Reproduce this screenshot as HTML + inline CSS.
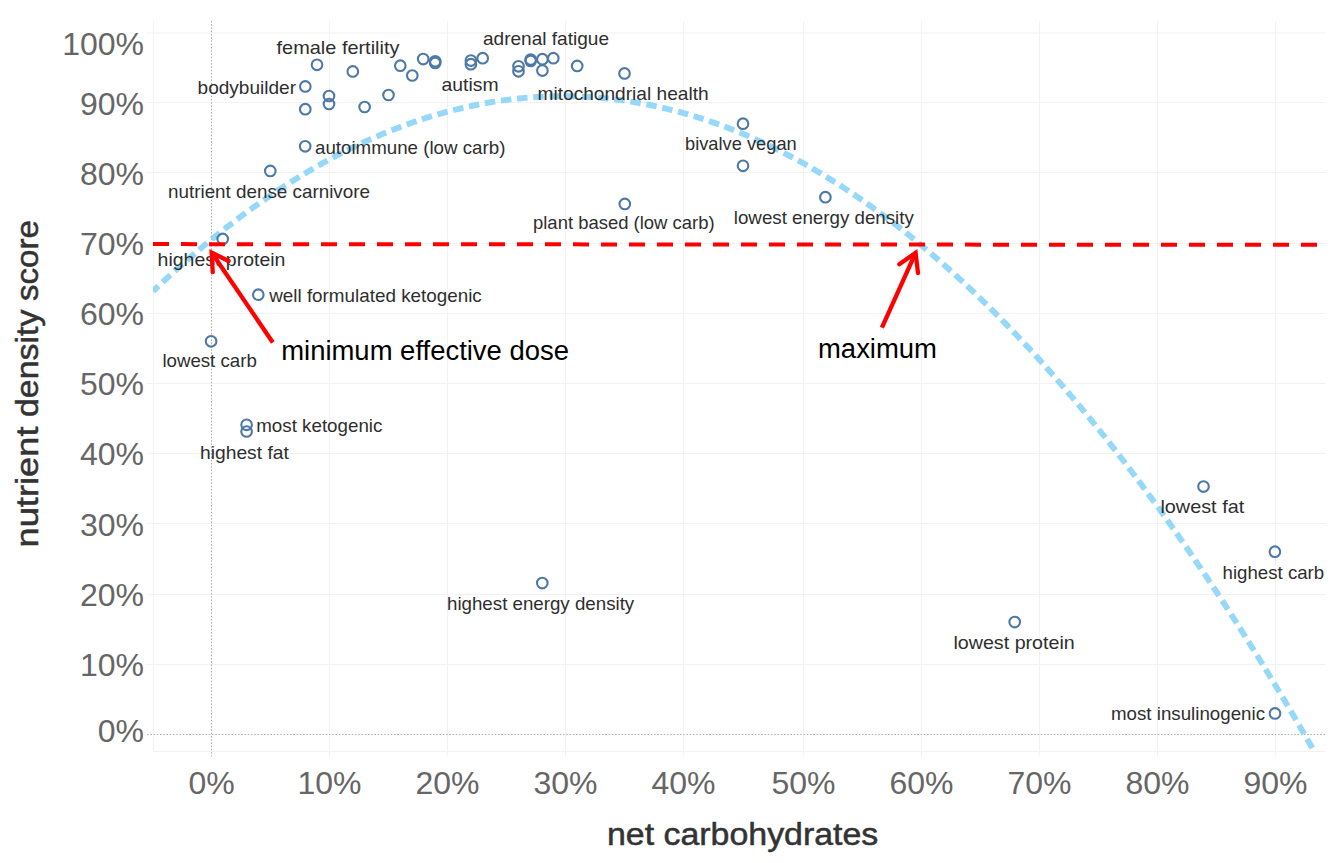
<!DOCTYPE html>
<html><head><meta charset="utf-8"><style>
html,body{margin:0;padding:0;background:#fff;width:1337px;height:863px;overflow:hidden}
svg{position:absolute;left:0;top:0}
text{font-family:"Liberation Sans",sans-serif}
</style></head><body>
<svg width="1337" height="863" viewBox="0 0 1337 863">

<line x1="147" y1="664.5" x2="1325.6" y2="664.5" stroke="#f2f2f2" stroke-width="1"/>
<line x1="147" y1="594.5" x2="1325.6" y2="594.5" stroke="#f2f2f2" stroke-width="1"/>
<line x1="147" y1="523.5" x2="1325.6" y2="523.5" stroke="#f2f2f2" stroke-width="1"/>
<line x1="147" y1="453.5" x2="1325.6" y2="453.5" stroke="#f2f2f2" stroke-width="1"/>
<line x1="147" y1="383.5" x2="1325.6" y2="383.5" stroke="#f2f2f2" stroke-width="1"/>
<line x1="147" y1="313.5" x2="1325.6" y2="313.5" stroke="#f2f2f2" stroke-width="1"/>
<line x1="147" y1="243.5" x2="1325.6" y2="243.5" stroke="#f2f2f2" stroke-width="1"/>
<line x1="147" y1="172.5" x2="1325.6" y2="172.5" stroke="#f2f2f2" stroke-width="1"/>
<line x1="147" y1="102.5" x2="1325.6" y2="102.5" stroke="#f2f2f2" stroke-width="1"/>
<line x1="147" y1="33.0" x2="1325.6" y2="33.0" stroke="#f2f2f2" stroke-width="1"/>
<line x1="329.5" y1="20.9" x2="329.5" y2="756.5" stroke="#f2f2f2" stroke-width="1"/>
<line x1="447.5" y1="20.9" x2="447.5" y2="756.5" stroke="#f2f2f2" stroke-width="1"/>
<line x1="565.5" y1="20.9" x2="565.5" y2="756.5" stroke="#f2f2f2" stroke-width="1"/>
<line x1="683.5" y1="20.9" x2="683.5" y2="756.5" stroke="#f2f2f2" stroke-width="1"/>
<line x1="803.5" y1="20.9" x2="803.5" y2="756.5" stroke="#f2f2f2" stroke-width="1"/>
<line x1="921.5" y1="20.9" x2="921.5" y2="756.5" stroke="#f2f2f2" stroke-width="1"/>
<line x1="1039.5" y1="20.9" x2="1039.5" y2="756.5" stroke="#f2f2f2" stroke-width="1"/>
<line x1="1157.5" y1="20.9" x2="1157.5" y2="756.5" stroke="#f2f2f2" stroke-width="1"/>
<line x1="1275.5" y1="20.9" x2="1275.5" y2="756.5" stroke="#f2f2f2" stroke-width="1"/>
<line x1="153.5" y1="20.9" x2="153.5" y2="751.6" stroke="#f2f2f2" stroke-width="1"/>
<line x1="153" y1="751.5" x2="1325.6" y2="751.5" stroke="#f2f2f2" stroke-width="1"/>
<line x1="147" y1="734.5" x2="1325.6" y2="734.5" stroke="#b0b0b0" stroke-width="1" stroke-dasharray="1.6 1.65"/>
<line x1="211.5" y1="20.9" x2="211.5" y2="756.5" stroke="#b0b0b0" stroke-width="1" stroke-dasharray="1.6 1.65"/>
<defs><clipPath id="pc"><rect x="153.0" y="20.9" width="1172.6" height="730.7"/></clipPath></defs>
<path d="M153.00,291.19 L155.00,289.29 L157.00,287.40 L159.00,285.52 L161.00,283.65 L163.00,281.79 L165.00,279.94 L167.00,278.10 L169.00,276.27 L171.00,274.44 L173.00,272.63 L175.00,270.82 L177.00,269.03 L179.00,267.24 L181.00,265.47 L183.00,263.70 L185.00,261.94 L187.00,260.19 L189.00,258.45 L191.00,256.72 L193.00,255.00 L195.00,253.29 L197.00,251.58 L199.00,249.89 L201.00,248.20 L203.00,246.53 L205.00,244.86 L207.00,243.21 L209.00,241.56 L211.00,239.92 L213.00,238.29 L215.00,236.67 L217.00,235.06 L219.00,233.46 L221.00,231.87 L223.00,230.29 L225.00,228.72 L227.00,227.15 L229.00,225.60 L231.00,224.05 L233.00,222.52 L235.00,220.99 L237.00,219.47 L239.00,217.97 L241.00,216.47 L243.00,214.98 L245.00,213.50 L247.00,212.03 L249.00,210.57 L251.00,209.11 L253.00,207.67 L255.00,206.24 L257.00,204.81 L259.00,203.40 L261.00,201.99 L263.00,200.60 L265.00,199.21 L267.00,197.83 L269.00,196.46 L271.00,195.10 L273.00,193.75 L275.00,192.41 L277.00,191.08 L279.00,189.76 L281.00,188.44 L283.00,187.14 L285.00,185.85 L287.00,184.56 L289.00,183.28 L291.00,182.02 L293.00,180.76 L295.00,179.51 L297.00,178.27 L299.00,177.04 L301.00,175.82 L303.00,174.61 L305.00,173.41 L307.00,172.22 L309.00,171.04 L311.00,169.86 L313.00,168.70 L315.00,167.54 L317.00,166.40 L319.00,165.26 L321.00,164.13 L323.00,163.02 L325.00,161.91 L327.00,160.81 L329.00,159.72 L331.00,158.64 L333.00,157.56 L335.00,156.50 L337.00,155.45 L339.00,154.41 L341.00,153.37 L343.00,152.35 L345.00,151.33 L347.00,150.32 L349.00,149.33 L351.00,148.34 L353.00,147.36 L355.00,146.39 L357.00,145.43 L359.00,144.48 L361.00,143.54 L363.00,142.60 L365.00,141.68 L367.00,140.77 L369.00,139.86 L371.00,138.97 L373.00,138.08 L375.00,137.20 L377.00,136.34 L379.00,135.48 L381.00,134.63 L383.00,133.79 L385.00,132.96 L387.00,132.14 L389.00,131.33 L391.00,130.53 L393.00,129.73 L395.00,128.95 L397.00,128.17 L399.00,127.41 L401.00,126.65 L403.00,125.91 L405.00,125.17 L407.00,124.44 L409.00,123.72 L411.00,123.01 L413.00,122.31 L415.00,121.62 L417.00,120.94 L419.00,120.27 L421.00,119.60 L423.00,118.95 L425.00,118.30 L427.00,117.67 L429.00,117.04 L431.00,116.43 L433.00,115.82 L435.00,115.22 L437.00,114.63 L439.00,114.05 L441.00,113.48 L443.00,112.92 L445.00,112.37 L447.00,111.83 L449.00,111.29 L451.00,110.77 L453.00,110.25 L455.00,109.75 L457.00,109.25 L459.00,108.77 L461.00,108.29 L463.00,107.82 L465.00,107.36 L467.00,106.91 L469.00,106.47 L471.00,106.04 L473.00,105.62 L475.00,105.21 L477.00,104.80 L479.00,104.41 L481.00,104.02 L483.00,103.65 L485.00,103.28 L487.00,102.93 L489.00,102.58 L491.00,102.24 L493.00,101.91 L495.00,101.59 L497.00,101.28 L499.00,100.98 L501.00,100.69 L503.00,100.41 L505.00,100.13 L507.00,99.87 L509.00,99.61 L511.00,99.37 L513.00,99.13 L515.00,98.91 L517.00,98.69 L519.00,98.48 L521.00,98.28 L523.00,98.09 L525.00,97.91 L527.00,97.74 L529.00,97.58 L531.00,97.42 L533.00,97.28 L535.00,97.15 L537.00,97.02 L539.00,96.91 L541.00,96.80 L543.00,96.70 L545.00,96.62 L547.00,96.54 L549.00,96.47 L551.00,96.41 L553.00,96.36 L555.00,96.32 L557.00,96.29 L559.00,96.26 L561.00,96.25 L563.00,96.25 L565.00,96.25 L567.00,96.26 L569.00,96.29 L571.00,96.32 L573.00,96.36 L575.00,96.42 L577.00,96.48 L579.00,96.55 L581.00,96.63 L583.00,96.72 L585.00,96.81 L587.00,96.92 L589.00,97.04 L591.00,97.16 L593.00,97.30 L595.00,97.44 L597.00,97.60 L599.00,97.76 L601.00,97.93 L603.00,98.11 L605.00,98.30 L607.00,98.50 L609.00,98.71 L611.00,98.93 L613.00,99.16 L615.00,99.40 L617.00,99.64 L619.00,99.90 L621.00,100.17 L623.00,100.44 L625.00,100.72 L627.00,101.02 L629.00,101.32 L631.00,101.63 L633.00,101.95 L635.00,102.28 L637.00,102.62 L639.00,102.97 L641.00,103.33 L643.00,103.69 L645.00,104.07 L647.00,104.46 L649.00,104.85 L651.00,105.26 L653.00,105.67 L655.00,106.09 L657.00,106.52 L659.00,106.97 L661.00,107.42 L663.00,107.88 L665.00,108.35 L667.00,108.83 L669.00,109.31 L671.00,109.81 L673.00,110.32 L675.00,110.83 L677.00,111.36 L679.00,111.89 L681.00,112.44 L683.00,112.99 L685.00,113.55 L687.00,114.12 L689.00,114.70 L691.00,115.29 L693.00,115.89 L695.00,116.50 L697.00,117.12 L699.00,117.75 L701.00,118.38 L703.00,119.03 L705.00,119.68 L707.00,120.35 L709.00,121.02 L711.00,121.70 L713.00,122.40 L715.00,123.10 L717.00,123.81 L719.00,124.53 L721.00,125.26 L723.00,126.00 L725.00,126.74 L727.00,127.50 L729.00,128.27 L731.00,129.04 L733.00,129.83 L735.00,130.62 L737.00,131.43 L739.00,132.24 L741.00,133.06 L743.00,133.89 L745.00,134.73 L747.00,135.58 L749.00,136.44 L751.00,137.31 L753.00,138.19 L755.00,139.08 L757.00,139.97 L759.00,140.88 L761.00,141.79 L763.00,142.72 L765.00,143.65 L767.00,144.59 L769.00,145.55 L771.00,146.51 L773.00,147.48 L775.00,148.46 L777.00,149.45 L779.00,150.45 L781.00,151.45 L783.00,152.47 L785.00,153.50 L787.00,154.53 L789.00,155.58 L791.00,156.63 L793.00,157.69 L795.00,158.77 L797.00,159.85 L799.00,160.94 L801.00,162.04 L803.00,163.15 L805.00,164.27 L807.00,165.40 L809.00,166.54 L811.00,167.68 L813.00,168.84 L815.00,170.01 L817.00,171.18 L819.00,172.36 L821.00,173.56 L823.00,174.76 L825.00,175.97 L827.00,177.19 L829.00,178.42 L831.00,179.66 L833.00,180.91 L835.00,182.17 L837.00,183.44 L839.00,184.72 L841.00,186.00 L843.00,187.30 L845.00,188.60 L847.00,189.92 L849.00,191.24 L851.00,192.57 L853.00,193.92 L855.00,195.27 L857.00,196.63 L859.00,198.00 L861.00,199.38 L863.00,200.76 L865.00,202.16 L867.00,203.57 L869.00,204.99 L871.00,206.41 L873.00,207.85 L875.00,209.29 L877.00,210.74 L879.00,212.21 L881.00,213.68 L883.00,215.16 L885.00,216.65 L887.00,218.15 L889.00,219.66 L891.00,221.18 L893.00,222.70 L895.00,224.24 L897.00,225.79 L899.00,227.34 L901.00,228.91 L903.00,230.48 L905.00,232.06 L907.00,233.66 L909.00,235.26 L911.00,236.87 L913.00,238.49 L915.00,240.12 L917.00,241.76 L919.00,243.41 L921.00,245.07 L923.00,246.73 L925.00,248.41 L927.00,250.09 L929.00,251.79 L931.00,253.49 L933.00,255.21 L935.00,256.93 L937.00,258.66 L939.00,260.40 L941.00,262.15 L943.00,263.91 L945.00,265.68 L947.00,267.46 L949.00,269.25 L951.00,271.04 L953.00,272.85 L955.00,274.67 L957.00,276.49 L959.00,278.32 L961.00,280.17 L963.00,282.02 L965.00,283.88 L967.00,285.75 L969.00,287.63 L971.00,289.52 L973.00,291.42 L975.00,293.33 L977.00,295.25 L979.00,297.17 L981.00,299.11 L983.00,301.06 L985.00,303.01 L987.00,304.97 L989.00,306.95 L991.00,308.93 L993.00,310.92 L995.00,312.92 L997.00,314.93 L999.00,316.95 L1001.00,318.98 L1003.00,321.02 L1005.00,323.07 L1007.00,325.12 L1009.00,327.19 L1011.00,329.27 L1013.00,331.35 L1015.00,333.44 L1017.00,335.55 L1019.00,337.66 L1021.00,339.78 L1023.00,341.91 L1025.00,344.05 L1027.00,346.20 L1029.00,348.36 L1031.00,350.53 L1033.00,352.71 L1035.00,354.89 L1037.00,357.09 L1039.00,359.29 L1041.00,361.51 L1043.00,363.73 L1045.00,365.97 L1047.00,368.21 L1049.00,370.46 L1051.00,372.72 L1053.00,374.99 L1055.00,377.27 L1057.00,379.56 L1059.00,381.86 L1061.00,384.17 L1063.00,386.48 L1065.00,388.81 L1067.00,391.14 L1069.00,393.49 L1071.00,395.84 L1073.00,398.21 L1075.00,400.58 L1077.00,402.96 L1079.00,405.35 L1081.00,407.75 L1083.00,410.16 L1085.00,412.58 L1087.00,415.01 L1089.00,417.44 L1091.00,419.89 L1093.00,422.35 L1095.00,424.81 L1097.00,427.29 L1099.00,429.77 L1101.00,432.26 L1103.00,434.77 L1105.00,437.28 L1107.00,439.80 L1109.00,442.33 L1111.00,444.87 L1113.00,447.42 L1115.00,449.97 L1117.00,452.54 L1119.00,455.12 L1121.00,457.70 L1123.00,460.30 L1125.00,462.90 L1127.00,465.52 L1129.00,468.14 L1131.00,470.77 L1133.00,473.41 L1135.00,476.07 L1137.00,478.73 L1139.00,481.40 L1141.00,484.07 L1143.00,486.76 L1145.00,489.46 L1147.00,492.17 L1149.00,494.88 L1151.00,497.61 L1153.00,500.34 L1155.00,503.09 L1157.00,505.84 L1159.00,508.60 L1161.00,511.37 L1163.00,514.15 L1165.00,516.94 L1167.00,519.74 L1169.00,522.55 L1171.00,525.37 L1173.00,528.20 L1175.00,531.03 L1177.00,533.88 L1179.00,536.73 L1181.00,539.60 L1183.00,542.47 L1185.00,545.35 L1187.00,548.25 L1189.00,551.15 L1191.00,554.06 L1193.00,556.98 L1195.00,559.91 L1197.00,562.85 L1199.00,565.80 L1201.00,568.75 L1203.00,571.72 L1205.00,574.69 L1207.00,577.68 L1209.00,580.67 L1211.00,583.68 L1213.00,586.69 L1215.00,589.71 L1217.00,592.74 L1219.00,595.79 L1221.00,598.84 L1223.00,601.89 L1225.00,604.96 L1227.00,608.04 L1229.00,611.13 L1231.00,614.22 L1233.00,617.33 L1235.00,620.45 L1237.00,623.57 L1239.00,626.70 L1241.00,629.85 L1243.00,633.00 L1245.00,636.16 L1247.00,639.33 L1249.00,642.51 L1251.00,645.70 L1253.00,648.90 L1255.00,652.11 L1257.00,655.32 L1259.00,658.55 L1261.00,661.79 L1263.00,665.03 L1265.00,668.29 L1267.00,671.55 L1269.00,674.82 L1271.00,678.10 L1273.00,681.40 L1275.00,684.70 L1277.00,688.01 L1279.00,691.33 L1281.00,694.65 L1283.00,697.99 L1285.00,701.34 L1287.00,704.69 L1289.00,708.06 L1291.00,711.44 L1293.00,714.82 L1295.00,718.21 L1297.00,721.62 L1299.00,725.03 L1301.00,728.45 L1303.00,731.88 L1305.00,735.32 L1307.00,738.77 L1309.00,742.23 L1311.00,745.70 L1313.00,749.17 L1315.00,752.66 L1317.00,756.15 L1319.00,759.66 L1321.00,763.17 L1323.00,766.70 L1325.00,770.23" fill="none" stroke="#95d8f9" stroke-width="5.9" stroke-dasharray="10.5 5.74" stroke-dashoffset="2.94" clip-path="url(#pc)"/>
<circle cx="317.0" cy="64.8" r="5.3" fill="none" stroke="#4e79a7" stroke-width="2.1"/>
<circle cx="352.8" cy="71.4" r="5.3" fill="none" stroke="#4e79a7" stroke-width="2.1"/>
<circle cx="305.3" cy="86.4" r="5.3" fill="none" stroke="#4e79a7" stroke-width="2.1"/>
<circle cx="329.0" cy="96.0" r="5.3" fill="none" stroke="#4e79a7" stroke-width="2.1"/>
<circle cx="329.0" cy="104.0" r="5.3" fill="none" stroke="#4e79a7" stroke-width="2.1"/>
<circle cx="305.3" cy="109.2" r="5.3" fill="none" stroke="#4e79a7" stroke-width="2.1"/>
<circle cx="364.6" cy="107.0" r="5.3" fill="none" stroke="#4e79a7" stroke-width="2.1"/>
<circle cx="388.5" cy="95.0" r="5.3" fill="none" stroke="#4e79a7" stroke-width="2.1"/>
<circle cx="400.3" cy="65.7" r="5.3" fill="none" stroke="#4e79a7" stroke-width="2.1"/>
<circle cx="412.3" cy="75.5" r="5.3" fill="none" stroke="#4e79a7" stroke-width="2.1"/>
<circle cx="423.2" cy="59.1" r="5.3" fill="none" stroke="#4e79a7" stroke-width="2.1"/>
<circle cx="435.2" cy="61.3" r="5.3" fill="none" stroke="#4e79a7" stroke-width="2.1"/>
<circle cx="435.2" cy="63.0" r="5.3" fill="none" stroke="#4e79a7" stroke-width="2.1"/>
<circle cx="305.2" cy="146.3" r="5.3" fill="none" stroke="#4e79a7" stroke-width="2.1"/>
<circle cx="270.3" cy="170.9" r="5.3" fill="none" stroke="#4e79a7" stroke-width="2.1"/>
<circle cx="470.9" cy="60.6" r="5.3" fill="none" stroke="#4e79a7" stroke-width="2.1"/>
<circle cx="470.9" cy="64.2" r="5.3" fill="none" stroke="#4e79a7" stroke-width="2.1"/>
<circle cx="482.7" cy="58.2" r="5.3" fill="none" stroke="#4e79a7" stroke-width="2.1"/>
<circle cx="518.5" cy="66.3" r="5.3" fill="none" stroke="#4e79a7" stroke-width="2.1"/>
<circle cx="518.5" cy="71.3" r="5.3" fill="none" stroke="#4e79a7" stroke-width="2.1"/>
<circle cx="530.7" cy="59.6" r="5.3" fill="none" stroke="#4e79a7" stroke-width="2.1"/>
<circle cx="530.7" cy="61.0" r="5.3" fill="none" stroke="#4e79a7" stroke-width="2.1"/>
<circle cx="542.4" cy="59.2" r="5.3" fill="none" stroke="#4e79a7" stroke-width="2.1"/>
<circle cx="542.4" cy="70.6" r="5.3" fill="none" stroke="#4e79a7" stroke-width="2.1"/>
<circle cx="553.3" cy="58.2" r="5.3" fill="none" stroke="#4e79a7" stroke-width="2.1"/>
<circle cx="577.2" cy="65.9" r="5.3" fill="none" stroke="#4e79a7" stroke-width="2.1"/>
<circle cx="624.5" cy="73.4" r="5.3" fill="none" stroke="#4e79a7" stroke-width="2.1"/>
<circle cx="743.0" cy="123.7" r="5.3" fill="none" stroke="#4e79a7" stroke-width="2.1"/>
<circle cx="743.0" cy="165.8" r="5.3" fill="none" stroke="#4e79a7" stroke-width="2.1"/>
<circle cx="825.4" cy="197.2" r="5.3" fill="none" stroke="#4e79a7" stroke-width="2.1"/>
<circle cx="624.8" cy="203.9" r="5.3" fill="none" stroke="#4e79a7" stroke-width="2.1"/>
<circle cx="222.7" cy="238.9" r="5.3" fill="none" stroke="#4e79a7" stroke-width="2.1"/>
<circle cx="258.3" cy="294.7" r="5.3" fill="none" stroke="#4e79a7" stroke-width="2.1"/>
<circle cx="211.1" cy="341.3" r="5.3" fill="none" stroke="#4e79a7" stroke-width="2.1"/>
<circle cx="246.6" cy="424.8" r="5.3" fill="none" stroke="#4e79a7" stroke-width="2.1"/>
<circle cx="246.6" cy="431.5" r="5.3" fill="none" stroke="#4e79a7" stroke-width="2.1"/>
<circle cx="542.3" cy="583.1" r="5.3" fill="none" stroke="#4e79a7" stroke-width="2.1"/>
<circle cx="1203.5" cy="486.6" r="5.3" fill="none" stroke="#4e79a7" stroke-width="2.1"/>
<circle cx="1274.9" cy="551.7" r="5.3" fill="none" stroke="#4e79a7" stroke-width="2.1"/>
<circle cx="1014.7" cy="622.1" r="5.3" fill="none" stroke="#4e79a7" stroke-width="2.1"/>
<circle cx="1275.0" cy="713.4" r="5.3" fill="none" stroke="#4e79a7" stroke-width="2.1"/>
<text x="276.6" y="53.7" font-size="19" fill="#2e2e2e" textLength="122.8" lengthAdjust="spacingAndGlyphs">female fertility</text>
<text x="483.0" y="45.1" font-size="19" fill="#2e2e2e" textLength="126.0" lengthAdjust="spacingAndGlyphs">adrenal fatigue</text>
<text x="441.6" y="90.7" font-size="19" fill="#2e2e2e" textLength="57.0" lengthAdjust="spacingAndGlyphs">autism</text>
<text x="537.6" y="100.3" font-size="19" fill="#2e2e2e" textLength="171.0" lengthAdjust="spacingAndGlyphs">mitochondrial health</text>
<text x="197.6" y="93.6" font-size="19" fill="#2e2e2e" textLength="98.4" lengthAdjust="spacingAndGlyphs">bodybuilder</text>
<text x="315.0" y="153.5" font-size="19" fill="#2e2e2e" textLength="190.4" lengthAdjust="spacingAndGlyphs">autoimmune (low carb)</text>
<text x="168.0" y="198.1" font-size="19" fill="#2e2e2e" textLength="202.0" lengthAdjust="spacingAndGlyphs">nutrient dense carnivore</text>
<text x="685.0" y="150.1" font-size="19" fill="#2e2e2e" textLength="111.8" lengthAdjust="spacingAndGlyphs">bivalve vegan</text>
<text x="533.0" y="229.0" font-size="19" fill="#2e2e2e" textLength="181.6" lengthAdjust="spacingAndGlyphs">plant based (low carb)</text>
<text x="733.8" y="223.5" font-size="19" fill="#2e2e2e" textLength="180.0" lengthAdjust="spacingAndGlyphs">lowest energy density</text>
<text x="157.6" y="266.3" font-size="19" fill="#2e2e2e" textLength="127.8" lengthAdjust="spacingAndGlyphs">highest protein</text>
<text x="269.2" y="301.9" font-size="19" fill="#2e2e2e" textLength="212.6" lengthAdjust="spacingAndGlyphs">well formulated ketogenic</text>
<text x="162.4" y="367.1" font-size="19" fill="#2e2e2e" textLength="94.4" lengthAdjust="spacingAndGlyphs">lowest carb</text>
<text x="256.2" y="431.5" font-size="19" fill="#2e2e2e" textLength="126.2" lengthAdjust="spacingAndGlyphs">most ketogenic</text>
<text x="200.0" y="459.1" font-size="19" fill="#2e2e2e" textLength="88.8" lengthAdjust="spacingAndGlyphs">highest fat</text>
<text x="447.0" y="610.0" font-size="19" fill="#2e2e2e" textLength="187.2" lengthAdjust="spacingAndGlyphs">highest energy density</text>
<text x="1160.4" y="512.9" font-size="19" fill="#2e2e2e" textLength="83.8" lengthAdjust="spacingAndGlyphs">lowest fat</text>
<text x="1222.6" y="579.4" font-size="19" fill="#2e2e2e" textLength="101.6" lengthAdjust="spacingAndGlyphs">highest carb</text>
<text x="953.4" y="648.7" font-size="19" fill="#2e2e2e" textLength="121.4" lengthAdjust="spacingAndGlyphs">lowest protein</text>
<text x="1111.0" y="720.2" font-size="19" fill="#2e2e2e" textLength="154.0" lengthAdjust="spacingAndGlyphs">most insulinogenic</text>
<text x="144" y="742.4" font-size="32" fill="#666" text-anchor="end">0%</text>
<text x="144" y="675.8" font-size="32" fill="#666" text-anchor="end">10%</text>
<text x="144" y="605.6" font-size="32" fill="#666" text-anchor="end">20%</text>
<text x="144" y="535.5" font-size="32" fill="#666" text-anchor="end">30%</text>
<text x="144" y="465.3" font-size="32" fill="#666" text-anchor="end">40%</text>
<text x="144" y="395.2" font-size="32" fill="#666" text-anchor="end">50%</text>
<text x="144" y="325.0" font-size="32" fill="#666" text-anchor="end">60%</text>
<text x="144" y="254.9" font-size="32" fill="#666" text-anchor="end">70%</text>
<text x="144" y="184.7" font-size="32" fill="#666" text-anchor="end">80%</text>
<text x="144" y="114.6" font-size="32" fill="#666" text-anchor="end">90%</text>
<text x="144" y="54.7" font-size="32" fill="#666" text-anchor="end">100%</text>
<text x="211.5" y="793.5" font-size="32" fill="#666" text-anchor="middle">0%</text>
<text x="329.5" y="793.5" font-size="32" fill="#666" text-anchor="middle">10%</text>
<text x="447.5" y="793.5" font-size="32" fill="#666" text-anchor="middle">20%</text>
<text x="565.5" y="793.5" font-size="32" fill="#666" text-anchor="middle">30%</text>
<text x="683.5" y="793.5" font-size="32" fill="#666" text-anchor="middle">40%</text>
<text x="803.5" y="793.5" font-size="32" fill="#666" text-anchor="middle">50%</text>
<text x="921.5" y="793.5" font-size="32" fill="#666" text-anchor="middle">60%</text>
<text x="1039.5" y="793.5" font-size="32" fill="#666" text-anchor="middle">70%</text>
<text x="1157.5" y="793.5" font-size="32" fill="#666" text-anchor="middle">80%</text>
<text x="1275.5" y="793.5" font-size="32" fill="#666" text-anchor="middle">90%</text>
<text x="607.0" y="844.8" font-size="31" fill="#333" stroke="#333" stroke-width="0.5" textLength="271.3" lengthAdjust="spacingAndGlyphs">net carbohydrates</text>
<text transform="translate(37.6,301.00) rotate(-90)" x="0" y="0" font-size="31" fill="#333" stroke="#333" stroke-width="0.5" textLength="80.80" lengthAdjust="spacingAndGlyphs">score</text>
<text transform="translate(37.6,417.00) rotate(-90)" x="0" y="0" font-size="31" fill="#333" stroke="#333" stroke-width="0.5" textLength="107.40" lengthAdjust="spacingAndGlyphs">density</text>
<text transform="translate(37.6,547.50) rotate(-90)" x="0" y="0" font-size="31" fill="#333" stroke="#333" stroke-width="0.5" textLength="121.00" lengthAdjust="spacingAndGlyphs">nutrient</text>
<line x1="153" y1="244.1" x2="1317" y2="244.85" stroke="#ff0000" stroke-width="4" stroke-dasharray="16 12"/>
<line x1="272.80" y1="342.50" x2="211.64" y2="252.57" stroke="#ff0000" stroke-width="4.3" stroke-linecap="butt"/>
<polyline points="212.70,272.20 211.64,252.57 228.60,261.00" fill="none" stroke="#ff0000" stroke-width="4.3" stroke-linecap="round" stroke-linejoin="miter" stroke-miterlimit="10"/>
<line x1="881.90" y1="327.60" x2="915.59" y2="252.83" stroke="#ff0000" stroke-width="4.3" stroke-linecap="butt"/>
<polyline points="899.30,264.30 915.59,252.83 918.00,273.10" fill="none" stroke="#ff0000" stroke-width="4.3" stroke-linecap="round" stroke-linejoin="miter" stroke-miterlimit="10"/>
<text x="281.2" y="359.9" font-size="27" fill="#000" textLength="287.8" lengthAdjust="spacingAndGlyphs">minimum effective dose</text>
<text x="818.0" y="358.1" font-size="27" fill="#000" textLength="119.0" lengthAdjust="spacingAndGlyphs">maximum</text>
</svg></body></html>
